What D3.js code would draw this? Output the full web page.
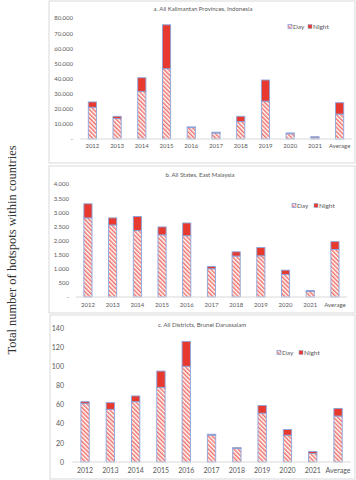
<!DOCTYPE html>
<html>
<head>
<meta charset="utf-8">
<script src="https://cdn.jsdelivr.net/npm/d3@7"></script>
<style>
  body { margin: 0; background: #fff; }
  svg { display: block; }
  text { font-family: Lato, "Liberation Sans", sans-serif; fill: #595959; }
</style>
</head>
<body>
<svg id="chart" width="356" height="480"></svg>
<script>
let years = ["2012", "2013", "2014", "2015", "2016", "2017", "2018", "2019", "2020", "2021", "Average"]

// a. Kalimantan
let dayA = [21000, 13500, 31500, 46500, 7500, 4000, 11500, 25000, 3500, 1000, 16500]
let nightA = [3500, 1500, 9000, 29000, 500, 500, 3500, 14000, 500, 500, 7500]
let ticksA = [0, 10000, 20000, 30000, 40000, 50000, 60000, 70000, 80000]

// b. East Malaysia
let dayB = [2800, 2550, 2350, 2200, 2170, 1000, 1450, 1460, 800, 200, 1680]
let nightB = [500, 250, 500, 280, 450, 80, 150, 290, 150, 30, 280]
let ticksB = [0, 500, 1000, 1500, 2000, 2500, 3000, 3500, 4000]

// c. Brunei
let dayC = [61, 55, 63, 78, 100, 28, 14, 51, 28, 9, 48]
let nightC = [2, 7, 6, 17, 26, 1, 1, 8, 6, 2, 8]
let ticksC = [0, 20, 40, 60, 80, 100, 120, 140]

let svg = d3.select("#chart")
let locale = d3.formatLocale({decimal: ",", thousands: ".", grouping: [3], currency: ["", ""]})
let dotFormat = locale.format(",d")

// hatch for day
let defs = svg.append("defs")
let pat = defs.append("pattern")
  .attr("id", "hatch")
  .attr("patternUnits", "userSpaceOnUse")
  .attr("width", 3).attr("height", 3)
  .attr("patternTransform", "rotate(-45)")
pat.append("rect").attr("width", 3).attr("height", 3).attr("fill", "#fff")
pat.append("rect").attr("width", 1.5).attr("height", 3).attr("fill", "#f2716a")

svg.append("text")
  .attr("transform", "translate(16, 250) rotate(-90)")
  .attr("text-anchor", "middle")
  .style("font-family", "'Liberation Serif', serif")
  .style("font-size", "12.5px")
  .style("fill", "#333")
  .text("Total number of hotspots within countries")

function drawPanel(p) {
  let g = svg.append("g")
  g.append("rect")
    .attr("x", p.box[0]).attr("y", p.box[1])
    .attr("width", p.box[2]).attr("height", p.box[3])
    .attr("fill", "#fff").attr("stroke", "#d9d9d9").attr("stroke-width", 1)

  g.append("text")
    .attr("x", p.titleX).attr("y", p.titleY)
    .attr("text-anchor", "middle")
    .style("font-size", "6px")
    .text(p.title)

  let x = d3.scaleBand().domain(years).range(p.xRange)
  let y = d3.scaleLinear().domain([0, p.ticks[p.ticks.length - 1]]).range(p.yRange)

  let rows = years.map((yr, i) => ({year: yr, day: p.day[i], night: p.night[i]}))
  let stacked = d3.stack().keys(["day", "night"])(rows)

  let bw = x.step() * 0.33
  g.selectAll("g.series")
    .data(stacked).enter()
    .append("g")
    .attr("fill", d => d.key == "day" ? "url(#hatch)" : "#e8392f")
    .selectAll("rect")
    .data(d => d).enter()
    .append("rect")
    .attr("x", d => x(d.data.year) + x.bandwidth() / 2 - bw / 2)
    .attr("y", d => y(d[1]))
    .attr("width", bw)
    .attr("height", d => y(d[0]) - y(d[1]))
    .attr("stroke", "#8aa6dc")
    .attr("stroke-width", 0.9)

  // baseline
  g.append("line")
    .attr("x1", p.xRange[0]).attr("x2", p.xRange[1])
    .attr("y1", y(0)).attr("y2", y(0))
    .attr("stroke", "#d9d9d9")

  let yAxis = d3.axisLeft(y).tickValues(p.ticks).tickSize(0).tickPadding(0)
    .tickFormat(p.fmt)
  g.append("g")
    .attr("transform", `translate(${p.yLabelX}, 0)`)
    .call(yAxis)
    .call(s => s.select(".domain").remove())
    .selectAll("text")
    .style("font-size", p.fs + "px")
    .style("font-family", "Lato, 'Liberation Sans', sans-serif")
    .attr("fill", "#666")

  let xAxis = d3.axisBottom(x).tickSize(0).tickPadding(0)
  g.append("g")
    .attr("transform", `translate(0, ${p.xLabelY})`)
    .call(xAxis)
    .call(s => s.select(".domain").remove())
    .selectAll("text")
    .style("font-size", p.fs + "px")
    .style("font-family", "Lato, 'Liberation Sans', sans-serif")
    .attr("fill", "#666")

  // legend
  let lg = g.append("g").attr("transform", `translate(${p.legend[0]}, ${p.legend[1]})`)
  lg.append("rect").attr("x", 0).attr("y", -2.5).attr("width", 4).attr("height", 4)
    .attr("fill", "url(#hatch)").attr("stroke", "#8aa6dc").attr("stroke-width", 0.8)
  lg.append("text").attr("x", 5).attr("y", 2).style("font-size", "6.5px").text("Day")
  lg.append("rect").attr("x", p.legendGap).attr("y", -2.5).attr("width", 4).attr("height", 4)
    .attr("fill", "#e8392f").attr("stroke", "#8aa6dc").attr("stroke-width", 0.5)
  lg.append("text").attr("x", p.legendGap + 5).attr("y", 2).style("font-size", "6.5px").text("Night")
}

drawPanel({
  box: [49, 1, 306, 162], title: "a. All Kalimantan Provinces, Indonesia", titleX: 203, titleY: 11,
  day: dayA, night: nightA, ticks: ticksA,
  fmt: d => d == 0 ? "-" : dotFormat(d),
  xRange: [80, 352], yRange: [139, 18], yLabelX: 73, xLabelY: 144, fs: 6,
  legend: [288, 27], legendGap: 20
})

drawPanel({
  box: [49, 166, 306, 147], title: "b. All States, East Malaysia", titleX: 200, titleY: 177,
  day: dayB, night: nightB, ticks: ticksB,
  fmt: d => d == 0 ? "-" : dotFormat(d),
  xRange: [75.6, 347.3], yRange: [297, 184], yLabelX: 69, xLabelY: 303, fs: 6,
  legend: [292, 206], legendGap: 22
})

drawPanel({
  box: [50, 315, 305, 164], title: "c. All Districts, Brunei Darussalam", titleX: 202, titleY: 327,
  day: dayC, night: nightC, ticks: ticksC,
  fmt: d => d,
  xRange: [72.4, 350.7], yRange: [462, 328], yLabelX: 64, xLabelY: 468, fs: 7,
  legend: [277, 353], legendGap: 22
})
</script>
</body>
</html>
